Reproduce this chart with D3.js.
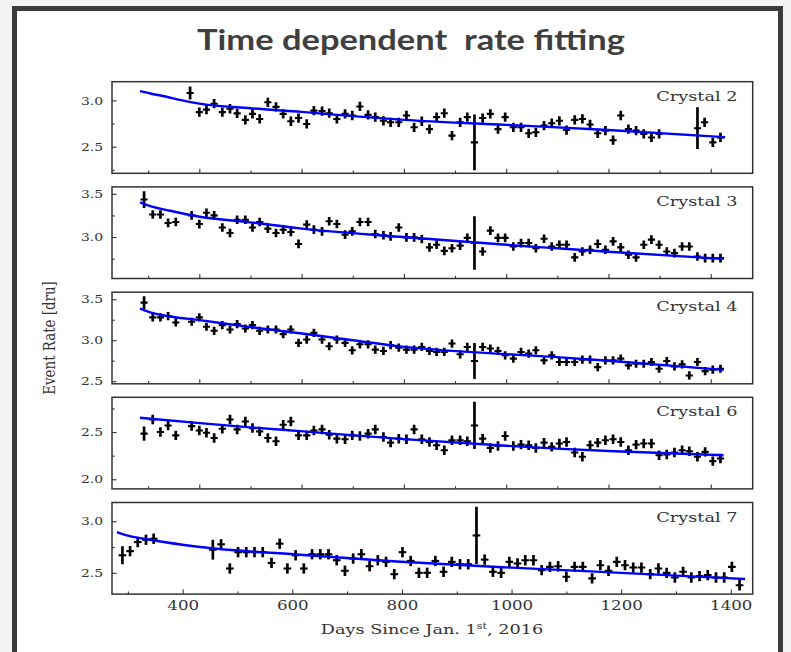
<!DOCTYPE html>
<html><head><meta charset="utf-8">
<script src="https://cdn.jsdelivr.net/npm/d3@7"></script>
<style>body{margin:0;background:#f3f3f3;} svg{display:block;}</style>
</head><body>
<svg id="chart" width="791" height="652"></svg>
<script>
// ---------------- DATA ----------------
const chartTitle = "Time dependent  rate fitting";
const yLabel = "Event Rate [dru]";
const crystalNames = ["Crystal 2", "Crystal 3", "Crystal 4", "Crystal 6", "Crystal 7"];
const xTickLabels = [400, 600, 800, 1000, 1200, 1400];

const days2 = [382,400,414,429,445,460,474,490,504,518,
  534,550,564,579,594,610,624,640,654,669,
  685,699,714,730,744,760,774,790,805,820,
  835,850,864,879,894,910,924,938,954,969,
  984,998,1014,1029,1044,1058,1074,1089,1104,1118,
  1134,1149,1164,1179,1194,1209,1224,1239,1254,1269,
  1284,1299,1374,1388,1404,1419];
const rate2 = [3.08,2.873,2.90,2.964,2.873,2.91,2.86,2.79,2.855,2.80,
  2.98,2.93,2.855,2.775,2.81,2.746,2.89,2.884,2.862,2.80,
  2.855,2.837,2.935,2.844,2.82,2.78,2.764,2.764,2.837,2.71,
  2.775,2.69,2.82,2.862,2.62,2.764,2.82,2.547,2.81,2.855,
  2.69,2.82,2.71,2.71,2.645,2.656,2.728,2.754,2.78,2.68,
  2.79,2.80,2.74,2.645,2.674,2.57,2.837,2.69,2.674,2.638,
  2.60,2.638,2.70,2.764,2.547,2.60];

const daysA = [292,309,324,339,354,385,400,414,429,445,
  460,474,490,504,518,534,550,564,579,594,
  610,624,640,654,669,685,699,714,730,744,
  760,774,790,805,820,835,850,864,879,894,
  910,924,938,954,969,984,998,1014,1029,1044,
  1058,1074,1089,1104,1118,1134,1149,1164,1179,1194,
  1209,1224,1239,1254,1269,1284,1299,1314,1329,1344,
  1358,1374,1389,1404,1419];
const rate3 = [3.434,3.26,3.26,3.163,3.174,3.25,3.15,3.28,3.25,3.11,
  3.047,3.20,3.20,3.11,3.174,3.097,3.047,3.085,3.058,2.92,
  3.143,3.085,3.066,3.182,3.151,3.027,3.066,3.174,3.174,3.035,
  3.02,3.008,3.11,2.996,2.996,2.977,2.88,2.91,2.84,2.87,
  2.90,2.99,2.93,2.833,3.074,2.99,2.99,2.89,2.93,2.93,
  2.87,2.98,2.89,2.91,2.91,2.764,2.833,2.853,2.92,2.853,
  2.95,2.88,2.795,2.764,2.91,2.97,2.91,2.833,2.814,2.89,
  2.89,2.775,2.756,2.756,2.756];
const rate4 = [3.459,3.279,3.279,3.295,3.217,3.225,3.279,3.164,3.115,3.184,
  3.131,3.197,3.143,3.184,3.115,3.131,3.131,3.074,3.131,2.967,
  3.008,3.09,3.008,2.926,3.008,2.967,2.877,2.95,2.95,2.885,
  2.869,2.939,2.91,2.885,2.885,2.918,2.869,2.857,2.857,2.959,
  2.828,2.918,2.746,2.918,2.898,2.869,2.816,2.775,2.857,2.836,
  2.877,2.754,2.816,2.734,2.734,2.734,2.762,2.762,2.672,2.754,
  2.754,2.775,2.693,2.713,2.713,2.734,2.652,2.746,2.68,2.705,
  2.57,2.734,2.623,2.64,2.652];
const rate6 = [2.483,2.633,2.50,2.57,2.465,2.563,2.517,2.493,2.437,2.535,
  2.633,2.528,2.612,2.542,2.507,2.437,2.402,2.577,2.612,2.465,
  2.465,2.517,2.528,2.472,2.43,2.423,2.465,2.458,2.483,2.528,
  2.448,2.388,2.43,2.423,2.528,2.423,2.395,2.36,2.308,2.413,
  2.413,2.402,2.57,2.43,2.332,2.353,2.458,2.353,2.367,2.36,
  2.332,2.388,2.343,2.378,2.395,2.283,2.238,2.36,2.388,2.413,
  2.423,2.395,2.308,2.367,2.378,2.378,2.255,2.262,2.283,2.308,
  2.297,2.238,2.29,2.192,2.22];

const days7 = [290,304,318,333,347,455,470,486,501,516,
  531,546,562,577,591,606,621,636,651,666,
  681,696,711,726,741,756,771,786,801,816,
  831,846,861,876,891,906,921,936,951,966,
  981,996,1011,1025,1040,1055,1070,1085,1100,1115,
  1130,1147,1162,1177,1192,1207,1222,1237,1253,1268,
  1283,1298,1313,1328,1343,1358,1373,1388,1402,1416];
const rate7 = [2.67,2.71,2.798,2.82,2.83,2.724,2.776,2.542,2.70,2.70,
  2.70,2.70,2.596,2.782,2.542,2.67,2.542,2.68,2.68,2.68,
  2.622,2.52,2.638,2.68,2.564,2.622,2.606,2.487,2.70,2.615,
  2.50,2.50,2.615,2.51,2.606,2.583,2.583,2.862,2.628,2.51,
  2.50,2.606,2.59,2.622,2.622,2.526,2.558,2.564,2.462,2.558,
  2.558,2.446,2.574,2.52,2.606,2.574,2.551,2.551,2.487,2.542,
  2.50,2.455,2.51,2.455,2.468,2.478,2.455,2.455,2.558,2.38];

// vertical error (half-length, dru): typical value plus the larger ones [day, err]
const typicalErr = 0.05;
const largeErr2 = [[382,0.07],[938,0.30],[1374,0.225]];
const largeErr3 = [[292,0.097],[938,0.31]];
const largeErr4 = [[292,0.078],[938,0.22]];
const largeErr6 = [[292,0.075],[938,0.25]];
const largeErr7 = [[290,0.087],[455,0.096],[936,0.277]];
const binHalfWidth = 7; // days

// fitted curves [day, rate]
const fit2 = [[284,3.10],[304,3.075],[336,3.04],[362,3.005],[400,2.965],[500,2.915],[600,2.876],[700,2.83],[800,2.79],[1000,2.736],[1200,2.68],[1428,2.603]];
const fit3 = [[284,3.40],[304,3.358],[343,3.304],[401,3.234],[500,3.17],[597,3.10],[792,3.003],[1000,2.91],[1099,2.87],[1200,2.83],[1425,2.746]];
const fit4 = [[284,3.385],[304,3.34],[343,3.29],[401,3.245],[500,3.16],[597,3.085],[700,3.0],[792,2.925],[1000,2.83],[1099,2.793],[1200,2.75],[1425,2.638]];
const fit6 = [[284,2.651],[401,2.595],[500,2.55],[597,2.51],[800,2.425],[1000,2.355],[1099,2.325],[1200,2.30],[1425,2.255]];
const fit7 = [[280,2.895],[300,2.86],[340,2.82],[432,2.75],[614,2.675],[790,2.61],[1000,2.55],[1200,2.50],[1426,2.44]];

// ---------------- LAYOUT ----------------
const SX = 1.3;   // horizontal stretch of the pasted figure's lettering
const SXY = 1.2;  // stretch used for the y tick labels
const serif = "'DejaVu Serif', serif";
const ink = "#333";
const left = 112, right = 752.7;
const panelTop = [81.7, 186.9, 292.2, 397.3, 502.5];
const panelH = 91.6;

const panels = [
  {name: crystalNames[0], days: days2, rate: rate2, big: largeErr2, fit: fit2, yDom: [2.213, 3.202], yMaj: [2.5, 3.0], yMin: [2.25, 2.75], xDom: [229.3, 1482]},
  {name: crystalNames[1], days: daysA, rate: rate3, big: largeErr3, fit: fit3, yDom: [2.52, 3.58], yMaj: [3.0, 3.5], yMin: [2.75, 3.25], xDom: [229.3, 1482]},
  {name: crystalNames[2], days: daysA, rate: rate4, big: largeErr4, fit: fit4, yDom: [2.468, 3.586], yMaj: [2.5, 3.0, 3.5], yMin: [2.75, 3.25], xDom: [229.3, 1482]},
  {name: crystalNames[3], days: daysA, rate: rate6, big: largeErr6, fit: fit6, yDom: [1.898, 2.868], yMaj: [2.0, 2.5], yMin: [2.25, 2.75], xDom: [229.3, 1482]},
  {name: crystalNames[4], days: days7, rate: rate7, big: largeErr7, fit: fit7, yDom: [2.294, 3.181], yMaj: [2.5, 3.0], yMin: [2.75], xDom: [271, 1440], labels: true}
];

const svg = d3.select("#chart");
svg.append("rect").attr("width", 791).attr("height", 652).attr("fill", "#f3f3f3");
svg.append("rect").attr("x", 14.5).attr("y", 8.5).attr("width", 766).attr("height", 700)
  .attr("fill", "#ffffff").attr("stroke", "#3b3b3b").attr("stroke-width", 5);

svg.append("text").attr("x", 411).attr("y", 50)
  .attr("text-anchor", "middle").attr("font-family", "Lato, 'Open Sans', sans-serif")
  .attr("font-weight", 700).attr("font-size", 28).attr("fill", "#3f3f3f")
  .style("white-space", "pre")
  .attr("textLength", 428).attr("lengthAdjust", "spacingAndGlyphs")
  .text(chartTitle);

const defs = svg.append("defs");

panels.forEach((p, i) => {
  const top = panelTop[i];
  const x = d3.scaleLinear().domain(p.xDom).range([left, right]);
  const y = d3.scaleLinear().domain(p.yDom).range([top + panelH, top]);
  const g = svg.append("g");

  defs.append("clipPath").attr("id", "clip" + i).append("rect")
    .attr("x", left).attr("y", top).attr("width", right - left).attr("height", panelH);

  // axes ticks (inward)
  const yMajAxis = d3.axisLeft(y).tickValues(p.yMaj).tickSize(-4.5).tickPadding(4).tickFormat(d3.format(".1f"));
  const yMinAxis = d3.axisLeft(y).tickValues(p.yMin).tickSize(-2.7).tickFormat("");
  const yg = g.append("g").attr("transform", `translate(${left},0)`).call(yMajAxis);
  g.append("g").attr("transform", `translate(${left},0)`).call(yMinAxis);
  yg.selectAll("text").attr("font-family", serif).attr("font-size", 11.6).attr("fill", ink)
    .attr("x", -9 / SXY).attr("transform", `scale(${SXY},1)`);

  const xMaj = d3.range(400, 1401, 200);
  const xMin = d3.range(300, 1301, 200);
  const xMajAxis = d3.axisBottom(x).tickValues(p.labels ? xTickLabels : xMaj).tickSize(-4.5).tickPadding(7)
    .tickFormat(p.labels ? d3.format("d") : "");
  const xMinAxis = d3.axisBottom(x).tickValues(xMin).tickSize(-2.7).tickFormat("");
  const xg = g.append("g").attr("transform", `translate(0,${top + panelH})`).call(xMajAxis);
  g.append("g").attr("transform", `translate(0,${top + panelH})`).call(xMinAxis);
  xg.selectAll("text").attr("font-family", serif).attr("font-size", 12.8).attr("fill", ink)
    .attr("transform", `scale(${SX},1)`);

  g.selectAll(".domain").remove();
  g.selectAll(".tick line").attr("stroke", ink).attr("stroke-width", 1.1);

  // data crosses
  const bigMap = new Map(p.big);
  const pts = p.days.map((d, j) => ({d, v: p.rate[j], e: bigMap.has(d) ? bigMap.get(d) : typicalErr}));
  const pg = g.append("g").attr("clip-path", `url(#clip${i})`);
  pg.selectAll("line.h").data(pts).join("line").attr("class", "h")
    .attr("x1", q => x(q.d - binHalfWidth)).attr("x2", q => x(q.d + binHalfWidth))
    .attr("y1", q => y(q.v)).attr("y2", q => y(q.v))
    .attr("stroke", "#000").attr("stroke-width", 2.1);
  pg.selectAll("line.v").data(pts).join("line").attr("class", "v")
    .attr("x1", q => x(q.d)).attr("x2", q => x(q.d))
    .attr("y1", q => y(q.v - q.e)).attr("y2", q => y(q.v + q.e))
    .attr("stroke", "#000").attr("stroke-width", 2.7);

  // fit curve
  pg.append("path").datum(p.fit)
    .attr("d", d3.line().x(q => x(q[0])).y(q => y(q[1])).curve(d3.curveMonotoneX))
    .attr("fill", "none").attr("stroke", "#0000ff").attr("stroke-width", 2.4);

  // frame
  g.append("rect").attr("x", left).attr("y", top).attr("width", right - left).attr("height", panelH)
    .attr("fill", "none").attr("stroke", ink).attr("stroke-width", 1.5);

  // crystal label
  g.append("g").attr("transform", `translate(737.5,${top + 19}) scale(${SX},1)`)
    .append("text").attr("text-anchor", "end").attr("font-family", serif).attr("font-size", 13.6)
    .attr("fill", ink).text(p.name);
});

// y axis label
svg.append("g").attr("transform", `translate(55,338) scale(${SX},1) rotate(-90)`)
  .append("text").attr("text-anchor", "middle").attr("font-family", serif).attr("font-size", 13.4)
  .attr("fill", ink).text(yLabel);

// x axis label with superscript
const xl = svg.append("g").attr("transform", `translate(432,634) scale(${SX},1)`)
  .append("text").attr("text-anchor", "middle").attr("font-family", serif).attr("font-size", 13.6).attr("fill", ink);
xl.append("tspan").text("Days Since Jan. 1");
xl.append("tspan").attr("font-size", 8.5).attr("dy", -5).text("st");
xl.append("tspan").attr("dy", 5).text(", 2016");
</script>
</body></html>
